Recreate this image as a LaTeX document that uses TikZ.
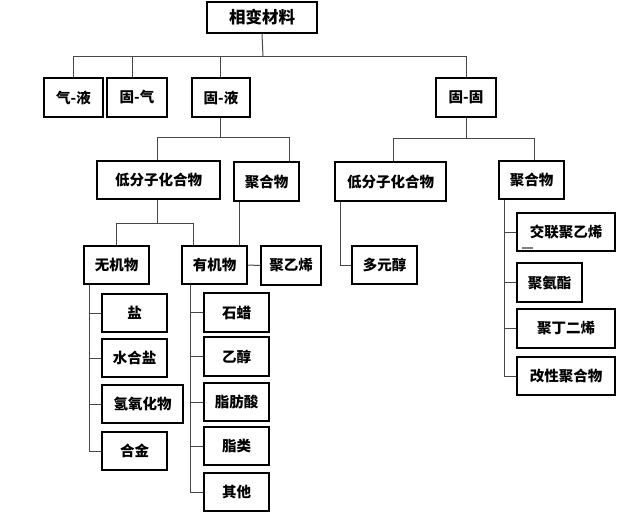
\documentclass[tikz,border=0pt]{standalone}
\usepackage{fontspec}
\newfontfamily\cjk{Noto Sans CJK SC}
\begin{document}
\begin{tikzpicture}[x=1pt,y=-1pt,
  box/.style={draw=black,line width=2.5pt,fill=white,inner sep=0pt,font=\cjk\bfseries\fontsize{14.5}{16}\selectfont},
  conn/.style={draw=black!72,line width=1pt}]
\useasboundingbox (0,0) rectangle (619,514);
% level 0
\node[box,minimum width=110,minimum height=31,font=\cjk\bfseries\fontsize{16.5}{18}\selectfont] (root) at (262,17.5) {相变材料};
% level 1
\node[box,minimum width=59,minimum height=39] (qiye) at (73.5,97.5) {气-液};
\node[box,minimum width=60,minimum height=39] (guqi) at (137,97.5) {固-气};
\node[box,minimum width=58,minimum height=39] (guye) at (221,97.5) {固-液};
\node[box,minimum width=60,minimum height=39] (gugu) at (466,97.5) {固-固};
% level 2
\node[box,minimum width=123,minimum height=38] (ldL) at (158.5,180) {低分子化合物};
\node[box,minimum width=65,minimum height=39] (jhL) at (266.5,181.5) {聚合物};
\node[box,minimum width=111,minimum height=39] (ldR) at (390.5,181.5) {低分子化合物};
\node[box,minimum width=65,minimum height=38] (jhR) at (531.5,180) {聚合物};
% level 3
\node[box,minimum width=65,minimum height=38] (wjw) at (116.5,265) {无机物};
\node[box,minimum width=65,minimum height=38] (yjw) at (214.5,265) {有机物};
\node[box,minimum width=60,minimum height=39] (jyx) at (291,265.5) {聚乙烯};
\node[box,minimum width=65,minimum height=38] (dyc) at (384.5,265) {多元醇};
% right polymer children
\node[box,minimum width=98,minimum height=38] (jlj) at (566,232) {交联聚乙烯};
\node[box,minimum width=65,minimum height=39] (jaz) at (549.5,282.5) {聚氨酯};
\node[box,minimum width=98,minimum height=39] (jde) at (566,328.5) {聚丁二烯};
\node[box,minimum width=98,minimum height=38] (gxj) at (566,376) {改性聚合物};
% inorganic children
\node[box,minimum width=65,minimum height=38] (yan) at (134.5,313) {盐};
\node[box,minimum width=65,minimum height=38] (shy) at (134.5,358) {水合盐};
\node[box,minimum width=81,minimum height=38] (qyh) at (142.5,404) {氢氧化物};
\node[box,minimum width=65,minimum height=38] (hj) at (134.5,451) {合金};
% organic children
\node[box,minimum width=65,minimum height=39] (sl) at (236.5,312.5) {石蜡};
\node[box,minimum width=65,minimum height=39] (yc) at (236.5,356.5) {乙醇};
\node[box,minimum width=65,minimum height=38] (zfs) at (236.5,402) {脂肪酸};
\node[box,minimum width=65,minimum height=38] (zl) at (236.5,446) {脂类};
\node[box,minimum width=65,minimum height=38] (qt) at (236.5,492) {其他};
% buses
\coordinate (b0) at (263,56);
\coordinate (b1) at (220,137);
\coordinate (b2) at (466,138);
\coordinate (b3) at (157,223);
% connectors level 0-1
\draw[conn] (root.south) -- (b0);
\draw[conn] (qiye.north) |- (b0);
\draw[conn] ([xshift=-5pt]guqi.north) |- (b0);
\draw[conn] ([xshift=-1pt]guye.north) |- (b0);
\draw[conn] (gugu.north) |- (b0);
% level 1-2
\draw[conn] ([xshift=-1pt]guye.south) -- (b1);
\draw[conn] ([xshift=-1.5pt]ldL.north) |- (b1);
\draw[conn] ([xshift=22.5pt]jhL.north) |- (b1);
\draw[conn] (gugu.south) -- (b2);
\draw[conn] ([xshift=2.5pt]ldR.north) |- (b2);
\draw[conn] ([xshift=2.5pt]jhR.north) |- (b2);
% level 2-3
\draw[conn] ([xshift=-1.5pt]ldL.south) -- (b3);
\draw[conn] (wjw.north) |- (b3);
\draw[conn] ([xshift=-21.5pt]yjw.north) |- (b3);
\draw[conn] ([xshift=7pt]jhL.south west) -- ([xshift=7pt]jhL.south west |- yjw.north);
\draw[conn] (yjw.east) -- (jyx.west);
\draw[conn] ([xshift=7pt]ldR.south west) |- (dyc.west);
% right polymer tree
\foreach \c in {jlj,jaz,jde,gxj}
  \draw[conn] ([xshift=7pt]jhR.south west) |- (\c.west);
% inorganic tree
\foreach \c in {yan,shy,qyh,hj}
  \draw[conn] ([xshift=7pt]wjw.south west) |- (\c.west);
% organic tree
\foreach \c in {sl,yc,zfs,zl,qt}
  \draw[conn] ([xshift=10pt]yjw.south west) |- (\c.west);
% small mark
\draw[black!50,line width=1.5pt] (522,248) -- (533,248);
\end{tikzpicture}
\end{document}
